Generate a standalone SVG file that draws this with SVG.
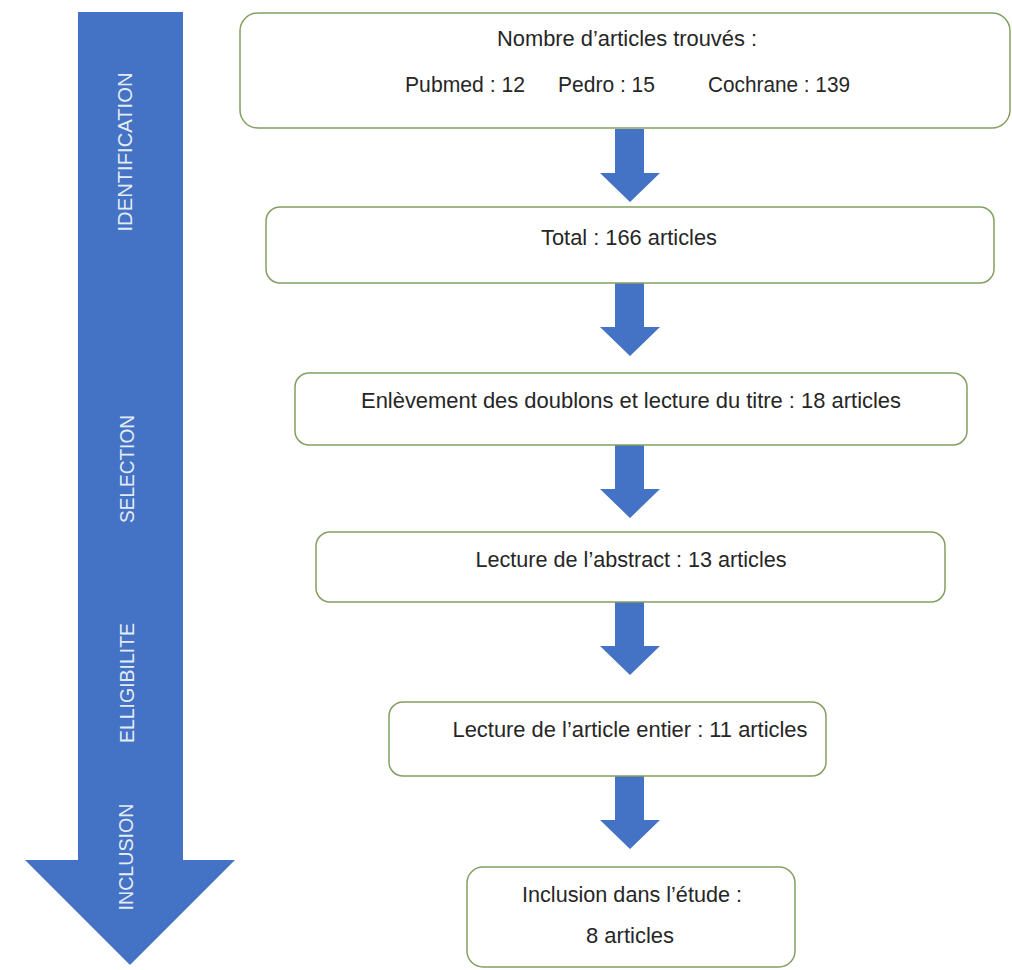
<svg xmlns="http://www.w3.org/2000/svg" width="1012" height="970" viewBox="0 0 1012 970">
<style>
.box{fill:#ffffff;stroke:#849f62;stroke-width:1.5}
.t{font-family:"Liberation Sans",Arial,sans-serif;font-size:22px;fill:#262626;text-anchor:middle}
.tl{font-family:"Liberation Sans",Arial,sans-serif;font-size:22px;fill:#262626}
.lab{font-family:"Liberation Sans",Arial,sans-serif;font-size:21px;fill:#e3ebf7;text-anchor:middle}
.arr{fill:#4472c4}
</style>
<defs>
<path id="down" d="M-15,0 H14 V44 H30 L0,73 L-30,44 H-15 Z"/>
</defs>
<rect width="1012" height="970" fill="#ffffff"/>

<g id="phase-arrow">
<path class="arr" d="M78,12 H183 V860 H235 L130,965 L25,860 H78 Z"/>
<text class="lab" transform="translate(132,152) rotate(-90)" textLength="159" lengthAdjust="spacingAndGlyphs">IDENTIFICATION</text>
<text class="lab" transform="translate(134,469) rotate(-90)" textLength="108" lengthAdjust="spacingAndGlyphs">SELECTION</text>
<text class="lab" transform="translate(134,683) rotate(-90)" textLength="120" lengthAdjust="spacingAndGlyphs">ELLIGIBILITE</text>
<text class="lab" transform="translate(133,857) rotate(-90)" textLength="107" lengthAdjust="spacingAndGlyphs">INCLUSION</text>
</g>

<g id="connectors">
<use href="#down" class="arr" x="630" y="129"/>
<use href="#down" class="arr" x="630" y="283"/>
<use href="#down" class="arr" x="630" y="445"/>
<use href="#down" class="arr" x="630" y="602"/>
<use href="#down" class="arr" x="630" y="776"/>
</g>

<g id="n1">
<rect class="box" x="240" y="13" width="770" height="115" rx="18"/>
<text class="t" x="627" y="46" textLength="260" lengthAdjust="spacingAndGlyphs">Nombre d’articles trouvés :</text>
<text class="tl" x="405" y="92" textLength="120" lengthAdjust="spacingAndGlyphs">Pubmed : 12</text>
<text class="tl" x="558" y="92" textLength="97" lengthAdjust="spacingAndGlyphs">Pedro : 15</text>
<text class="tl" x="708" y="92" textLength="142" lengthAdjust="spacingAndGlyphs">Cochrane : 139</text>
</g>

<g id="n2">
<rect class="box" x="266" y="207" width="728" height="76" rx="14"/>
<text class="t" x="629" y="245" textLength="176" lengthAdjust="spacingAndGlyphs">Total : 166 articles</text>
</g>

<g id="n3">
<rect class="box" x="295" y="373" width="672" height="72" rx="14"/>
<text class="t" x="631" y="408" textLength="540" lengthAdjust="spacingAndGlyphs">Enlèvement des doublons et lecture du titre : 18 articles</text>
</g>

<g id="n4">
<rect class="box" x="316" y="532" width="629" height="70" rx="14"/>
<text class="t" x="631" y="567" textLength="311" lengthAdjust="spacingAndGlyphs">Lecture de l’abstract : 13 articles</text>
</g>

<g id="n5">
<rect class="box" x="389" y="702" width="437" height="74" rx="14"/>
<text class="t" x="630" y="737" textLength="355" lengthAdjust="spacingAndGlyphs">Lecture de l’article entier : 11 articles</text>
</g>

<g id="n6">
<rect class="box" x="467" y="867" width="328" height="100" rx="16"/>
<text class="t" x="632" y="902" textLength="220" lengthAdjust="spacingAndGlyphs">Inclusion dans l’étude :</text>
<text class="t" x="630" y="943">8 articles</text>
</g>
</svg>
